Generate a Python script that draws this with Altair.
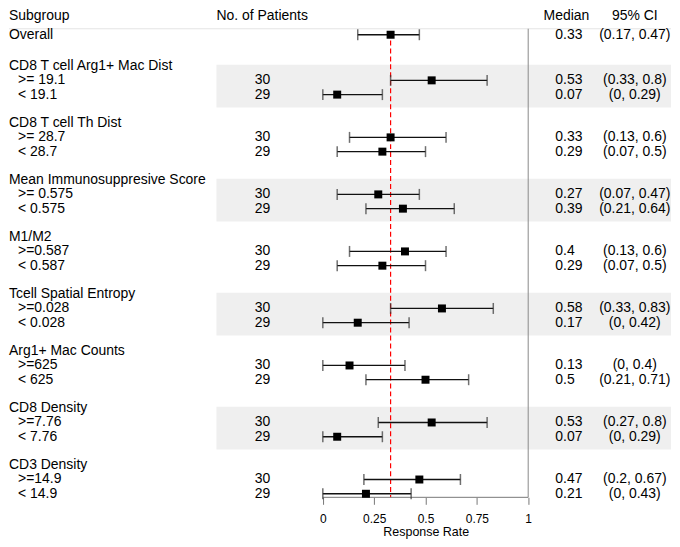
import altair as alt
import pandas as pd

# ---------------- data ----------------
groups = ["CD8 T cell Arg1+ Mac Dist", "CD8 T cell Th Dist", "Mean Immunosuppresive Score",
          "M1/M2", "Tcell Spatial Entropy", "Arg1+ Mac Counts", "CD8 Density", "CD3 Density"]
high_labels = [">= 19.1", ">= 28.7", ">= 0.575", ">=0.587", ">=0.028", ">=625", ">=7.76", ">=14.9"]
low_labels = ["< 19.1", "< 28.7", "< 0.575", "< 0.587", "< 0.028", "< 625", "< 7.76", "< 14.9"]
high_n = [30, 30, 30, 30, 30, 30, 30, 30]
low_n = [29, 29, 29, 29, 29, 29, 29, 29]
high_med = [0.53, 0.33, 0.27, 0.4, 0.58, 0.13, 0.53, 0.47]
high_lo = [0.33, 0.13, 0.07, 0.13, 0.33, 0.0, 0.27, 0.2]
high_hi = [0.8, 0.6, 0.47, 0.6, 0.83, 0.4, 0.8, 0.67]
low_med = [0.07, 0.29, 0.39, 0.29, 0.17, 0.5, 0.07, 0.21]
low_lo = [0.0, 0.07, 0.21, 0.07, 0.0, 0.21, 0.0, 0.0]
low_hi = [0.29, 0.5, 0.64, 0.5, 0.42, 0.71, 0.29, 0.43]
overall_label = "Overall"
overall_med, overall_lo, overall_hi = 0.33, 0.17, 0.47
shaded = [True, False, True, False, True, False, True, False]
ref_line = 0.33
x_ticks = [0, 0.25, 0.5, 0.75, 1]

# ---------------- layout (scale units) ----------------
PLOT_W = 664
PLOT_H = 490
X_MIN = -1.528
X_MAX = X_MIN + PLOT_W / 206.0
X_BAND_R = X_MAX
Y_MIN, Y_MAX = -1.82, 32.45
X_INDENT = X_MIN + 0.044
X_N = -0.256
X_N_HEAD = -0.518
X_MED = 1.132
X_MED_HEAD = 1.186
X_CI = 1.519
X_BAND_L = -0.518
HEAD_ROW = -1.33
LINE_ROW = -0.42
FONT = "Liberation Sans"


def fmt(v):
    return f"{v:g}"


rows = [dict(row=0.0, label=overall_label, lx=X_MIN, n="", medtxt=fmt(overall_med),
             citxt=f"({fmt(overall_lo)}, {fmt(overall_hi)})")]
est_rows = [dict(row=0.0, med=overall_med, lo=overall_lo, hi=overall_hi)]
bands = []
for g in range(len(groups)):
    h = 2.2 + 4 * g
    rows.append(dict(row=h, label=groups[g], lx=X_MIN, n="", medtxt="", citxt=""))
    rows.append(dict(row=h + 1, label=high_labels[g], lx=X_INDENT, n=str(high_n[g]),
                     medtxt=fmt(high_med[g]), citxt=f"({fmt(high_lo[g])}, {fmt(high_hi[g])})"))
    rows.append(dict(row=h + 2, label=low_labels[g], lx=X_INDENT, n=str(low_n[g]),
                     medtxt=fmt(low_med[g]), citxt=f"({fmt(low_lo[g])}, {fmt(low_hi[g])})"))
    est_rows.append(dict(row=h + 1, med=high_med[g], lo=high_lo[g], hi=high_hi[g]))
    est_rows.append(dict(row=h + 2, med=low_med[g], lo=low_lo[g], hi=low_hi[g]))
    if shaded[g]:
        bands.append(dict(top=h - 0.1, bot=h + 2.9, x=X_BAND_L, x2=X_BAND_R))

df = pd.DataFrame(rows)
df["xn"] = X_N
df["xmed"] = X_MED
df["xci"] = X_CI
est = pd.DataFrame(est_rows)
bands_df = pd.DataFrame(bands)

xscale = alt.Scale(domain=[X_MIN, X_MAX], nice=False, zero=False)
yscale = alt.Scale(domain=[Y_MIN, Y_MAX], nice=False, zero=False, reverse=True)
xaxis = alt.Axis(
    values=x_ticks, format="~g", domain=False, grid=False, tickSize=7,
    tickColor="#777777", tickWidth=1, labelFontSize=12, labelColor="#000000",
    labelFont=FONT, labelPadding=9, title="Response Rate", titleFont=FONT,
    titleFontSize=12.5, titleFontWeight="normal", titleColor="#000000",
    titleX=418, titleY=34, titleAlign="center", titleBaseline="middle")


def X(f):
    return alt.X(f, scale=xscale, axis=xaxis)


def Y(f):
    return alt.Y(f, scale=yscale, axis=None)


band_layer = alt.Chart(bands_df).mark_rect(color="#efefef").encode(
    x=X("x:Q"), x2="x2:Q", y=Y("top:Q"), y2="bot:Q",
)

head_line = alt.Chart(pd.DataFrame({"x": [X_MIN], "x2": [X_BAND_R], "y": [LINE_ROW]})).mark_rule(
    color="#e4e4e4", strokeWidth=1).encode(x=X("x:Q"), x2="x2:Q", y=Y("y:Q"))

vline = alt.Chart(pd.DataFrame({"x": [1.0], "y": [LINE_ROW], "y2": [Y_MAX]})).mark_rule(
    color="#8a8a8a", strokeWidth=1).encode(x=X("x:Q"), y=Y("y:Q"), y2="y2:Q")

axis_line = alt.Chart(pd.DataFrame({"x": [0.0], "x2": [1.0], "y": [Y_MAX]})).mark_rule(
    color="#777777", strokeWidth=1).encode(x=X("x:Q"), x2="x2:Q", y=Y("y:Q"))

red_line = alt.Chart(pd.DataFrame({"x": [ref_line], "y": [0.4], "y2": [Y_MAX]})).mark_rule(
    color="#ff0000", strokeWidth=1.2, strokeDash=[5, 3]
).encode(x=X("x:Q"), y=Y("y:Q"), y2="y2:Q")

ci_rule = alt.Chart(est).mark_rule(color="#111111", strokeWidth=1.3).encode(
    x=X("lo:Q"), x2="hi:Q", y=Y("row:Q"),
)

cap_lo = alt.Chart(est).mark_tick(color="#333333", thickness=1.5, size=11, orient="vertical").encode(
    x=X("lo:Q"), y=Y("row:Q")
)
cap_hi = alt.Chart(est).mark_tick(color="#333333", thickness=1.5, size=11, orient="vertical").encode(
    x=X("hi:Q"), y=Y("row:Q")
)

points = alt.Chart(est).mark_square(color="#000000", opacity=1, size=64, filled=True).encode(
    x=X("med:Q"), y=Y("row:Q")
)

txt = dict(font=FONT, fontSize=14, color="#000000", baseline="middle")

label_text = alt.Chart(df).mark_text(align="left", **txt).encode(
    x=X("lx:Q"), y=Y("row:Q"), text="label:N"
)
n_text = alt.Chart(df).mark_text(align="right", **txt).encode(
    x=X("xn:Q"), y=Y("row:Q"), text="n:N"
)
med_text = alt.Chart(df).mark_text(align="left", **txt).encode(
    x=X("xmed:Q"), y=Y("row:Q"), text="medtxt:N"
)
ci_text = alt.Chart(df).mark_text(align="center", **txt).encode(
    x=X("xci:Q"), y=Y("row:Q"), text="citxt:N"
)

head_l = pd.DataFrame({"x": [X_MIN, X_N_HEAD], "y": [HEAD_ROW, HEAD_ROW],
                       "t": ["Subgroup", "No. of Patients"]})
head_c = pd.DataFrame({"x": [X_MED_HEAD, X_CI], "y": [HEAD_ROW, HEAD_ROW],
                       "t": ["Median", "95% CI"]})
head_left = alt.Chart(head_l).mark_text(align="left", **txt).encode(
    x=X("x:Q"), y=Y("y:Q"), text="t:N"
)
head_center = alt.Chart(head_c).mark_text(align="center", **txt).encode(
    x=X("x:Q"), y=Y("y:Q"), text="t:N"
)

chart = alt.layer(
    band_layer, head_line, vline, red_line, axis_line, ci_rule, cap_lo, cap_hi, points,
    label_text, n_text, med_text, ci_text, head_left, head_center,
).properties(width=PLOT_W, height=PLOT_H, padding=0).configure_view(stroke=None)

chart.save("out.html", embed_options={"renderer": "svg", "actions": False})
